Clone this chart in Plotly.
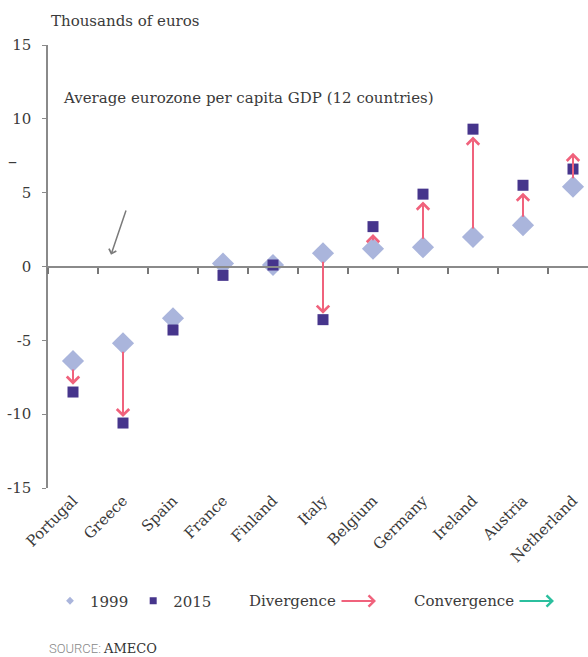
import plotly.graph_objects as go

countries = ["Portugal", "Greece", "Spain", "France", "Finland", "Italy",
             "Belgium", "Germany", "Ireland", "Austria", "Netherland"]
gdp_1999 = [-6.4, -5.2, -3.5, 0.2, 0.1, 0.9, 1.2, 1.3, 2.0, 2.8, 5.4]
gdp_2015 = [-8.5, -10.6, -4.3, -0.6, 0.1, -3.6, 2.7, 4.9, 9.3, 5.5, 6.6]
arrow_tip = [-8.0, -10.2, -4.3, -0.6, 0.1, -3.2, 2.2, 4.4, 8.8, 5.0, 7.7]
y_ticks = [15, 10, 5, 0, -5, -10, -15]
y_tick_labels = ["15", "10", "5", "0", "-5", "-10", "-15"]

SERIF = "DejaVu Serif"
DIAMOND = "#aab5dc"
SQUARE = "#46358c"
PINK = "#f0627c"
TEAL = "#2bbf9e"
GRAY = "#3a3a3a"

W, H = 588, 657
L, R, T, B = 48, 0, 45, 169
PH = H - T - B
PW = W - L - R


def py(pixel_y):
    return (H - B - pixel_y) / PH


def px(pixel_x):
    return (pixel_x - L) / PW


fig = go.Figure()

fig.add_trace(go.Scatter(
    x=countries, y=gdp_1999, mode="markers", showlegend=False,
    marker=dict(symbol="diamond", size=17, color=DIAMOND),
    hoverinfo="x+y"))

for c, a, b, t in zip(countries, gdp_1999, gdp_2015, arrow_tip):
    if abs(b - a) > 1.0:
        fig.add_annotation(
            x=c, y=t, ax=c, ay=a, xref="x", yref="y", axref="x", ayref="y",
            showarrow=True, arrowhead=4, arrowsize=1.2, arrowwidth=2,
            arrowcolor=PINK, text="", startstandoff=7)

fig.add_trace(go.Scatter(
    x=countries, y=gdp_2015, mode="markers", showlegend=False,
    marker=dict(symbol="square", size=11, color=SQUARE),
    hoverinfo="x+y"))

fig.add_trace(go.Scatter(x=[None], y=[None], mode="markers", name="1999",
                         marker=dict(symbol="diamond", size=6, color=DIAMOND)))
fig.add_trace(go.Scatter(x=[None], y=[None], mode="markers", name="2015",
                         marker=dict(symbol="square", size=7, color=SQUARE)))

fig.add_trace(go.Scatter(x=countries, y=[0] * len(countries), xaxis="x2",
                         mode="markers", marker=dict(opacity=0),
                         showlegend=False, hoverinfo="skip"))

fig.update_layout(
    width=W, height=H,
    margin=dict(l=L, r=R, t=T, b=B, autoexpand=False),
    paper_bgcolor="white", plot_bgcolor="white",
    font=dict(family=SERIF, color=GRAY, size=14),
    xaxis=dict(type="category", range=[-0.5, 10.3], showgrid=False,
               showline=False, zeroline=False, ticks="", tickangle=-45,
               automargin=False,
               tickfont=dict(family=SERIF, size=15, color=GRAY)),
    xaxis2=dict(type="category", range=[-0.5, 10.3], overlaying="x",
                anchor="free", position=0.5, showline=True, linecolor="#8a8a8a",
                linewidth=2, ticks="outside", ticklen=6, tickwidth=1.5,
                tickcolor="#777777", tickson="boundaries", showticklabels=False,
                showgrid=False, zeroline=False, automargin=False),
    yaxis=dict(range=[-15, 15], tickvals=y_ticks, ticktext=y_tick_labels,
               showgrid=False, automargin=False,
               zeroline=False, showline=True, linecolor="#8a8a8a", linewidth=1.5,
               ticks="outside", ticklen=4, tickcolor="#8a8a8a",
               ticklabelstandoff=8,
               tickfont=dict(family=SERIF, size=15, color=GRAY)),
    legend=dict(orientation="h", xref="container", yref="container",
                x=50 / W, y=1 - 601 / H, xanchor="left", yanchor="middle",
                font=dict(family=SERIF, size=15, color=GRAY),
                itemwidth=30, tracegroupgap=0, bgcolor="rgba(0,0,0,0)"),
)

fig.add_annotation(text="Thousands of euros", xref="paper", yref="paper",
                   x=px(49), y=py(21), xanchor="left", yanchor="middle",
                   showarrow=False, font=dict(family=SERIF, size=15, color=GRAY))
fig.add_annotation(text="Average eurozone per capita GDP (12 countries)",
                   xref="paper", yref="paper", x=px(61), y=py(98),
                   xanchor="left", yanchor="middle", showarrow=False,
                   font=dict(family=SERIF, size=15, color=GRAY))
fig.add_annotation(x=0.76, y=0.8, ax=1.07, ay=3.9, xref="x", yref="y",
                   axref="x", ayref="y", text="", showarrow=True,
                   arrowhead=4, arrowsize=1, arrowwidth=1.5,
                   arrowcolor="#7a7a7a")
fig.add_annotation(text="–", xref="paper", yref="paper", x=px(12), y=py(161),
                   xanchor="center", yanchor="middle", showarrow=False,
                   font=dict(family=SERIF, size=18, color=GRAY))

fig.add_annotation(text="Divergence", xref="paper", yref="paper",
                   x=px(247), y=py(601), xanchor="left", yanchor="middle",
                   showarrow=False, font=dict(family=SERIF, size=15, color=GRAY))
fig.add_annotation(text="", xref="paper", yref="paper",
                   x=px(376), y=py(601), ax=-36, ay=0,
                   showarrow=True, arrowhead=4, arrowsize=1.1, arrowwidth=2,
                   arrowcolor=PINK)
fig.add_annotation(text="Convergence", xref="paper", yref="paper",
                   x=px(412), y=py(601), xanchor="left", yanchor="middle",
                   showarrow=False, font=dict(family=SERIF, size=15, color=GRAY))
fig.add_annotation(text="", xref="paper", yref="paper",
                   x=px(554), y=py(601), ax=-36, ay=0,
                   showarrow=True, arrowhead=4, arrowsize=1.1, arrowwidth=2,
                   arrowcolor=TEAL)

fig.add_annotation(
    text="<span style='font-family:Roboto;font-weight:300;color:#888'>SOURCE: </span>"
         "<span style='color:#333'>AMECO</span>",
    xref="paper", yref="paper", x=px(47), y=py(648), xanchor="left",
    yanchor="middle", showarrow=False,
    font=dict(family=SERIF, size=13, color=GRAY))

fig.write_html("out.html", config={"displayModeBar": False},
               post_script="document.body.style.margin='0px';"
                           "document.body.style.overflow='hidden';")
